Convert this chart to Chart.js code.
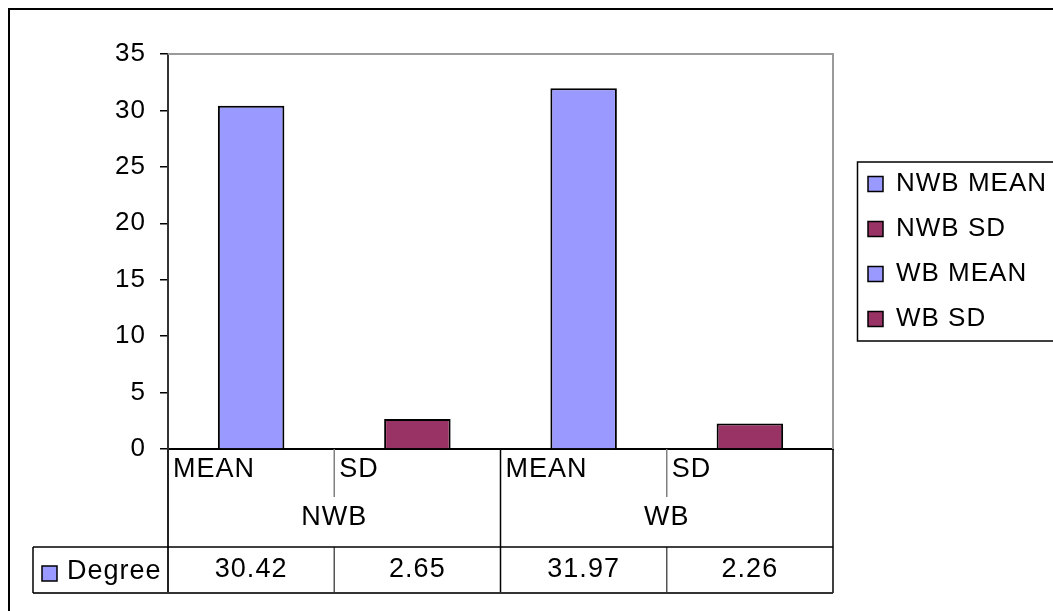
<!DOCTYPE html>
<html>
<head>
<meta charset="utf-8">
<script src="https://cdn.jsdelivr.net/npm/chart.js@4/dist/chart.umd.min.js"></script>
<style>
  html, body { margin: 0; padding: 0; background: #fff; }
  #wrap { width: 1053px; height: 611px; }
</style>
</head>
<body>
<div id="wrap"><canvas id="c" width="1053" height="611"></canvas></div>
<script>
// Chart data
const groups = ['NWB', 'WB'];
const categories = ['MEAN', 'SD', 'MEAN', 'SD'];
const seriesName = 'Degree';
const values = [30.42, 2.65, 31.97, 2.26];
const legendLabels = ['NWB MEAN', 'NWB SD', 'WB MEAN', 'WB SD'];
const yTicks = [0, 5, 10, 15, 20, 25, 30, 35];

// Styling
const FONT = "'Liberation Sans', Arial, sans-serif";
const barColors = ['#9999FF', '#993366', '#9999FF', '#993366'];

// Frame, plot-area border, legend box and the data table under the axis
const tablePlugin = {
  id: 'tablePlugin',
  beforeLayout(chart) { chart.ctx.letterSpacing = '1px'; },
  beforeDraw(chart) {
    const ctx = chart.ctx;
    ctx.letterSpacing = '1px';
    ctx.save();
    ctx.fillStyle = '#fff';
    ctx.fillRect(0, 0, chart.width, chart.height);
    // outer chart frame (only top/left inside the canvas)
    ctx.strokeStyle = '#000';
    ctx.lineWidth = 2;
    ctx.beginPath();
    ctx.moveTo(9, chart.height + 5);
    ctx.lineTo(9, 9);
    ctx.lineTo(chart.width + 5, 9);
    ctx.stroke();
    ctx.restore();
  },
  beforeDatasetsDraw(chart) {
    const ctx = chart.ctx, ca = chart.chartArea;
    ctx.save();
    ctx.strokeStyle = '#9a9a9a';
    ctx.lineWidth = 2;
    ctx.beginPath();
    ctx.moveTo(ca.left, ca.top);
    ctx.lineTo(ca.right, ca.top);
    ctx.lineTo(ca.right, ca.bottom);
    ctx.stroke();
    ctx.restore();
  },
  afterDraw(chart) {
    const ctx = chart.ctx, ca = chart.chartArea, xs = chart.scales.x;
    const n = categories.length;
    const cw = xs.getPixelForValue(1) - xs.getPixelForValue(0);
    const edge = i => xs.getPixelForValue(i) - cw / 2;
    const y0 = ca.bottom;
    const catMid = y0 + 21, subDivBottom = y0 + 48, grpMid = y0 + 69;
    const rowTop = y0 + 98, rowMid = y0 + 121, rowBottom = y0 + 144;
    const keyLeft = 33;

    ctx.save();
    ctx.lineCap = 'butt';
    const line = (x1, y1, x2, y2, color, w) => {
      ctx.strokeStyle = color; ctx.lineWidth = w;
      ctx.beginPath(); ctx.moveTo(x1, y1); ctx.lineTo(x2, y2); ctx.stroke();
    };
    // category dividers inside each group
    const perGroup = n / groups.length;
    for (let i = 1; i < n; i++) {
      if (i % perGroup === 0) {
        line(edge(i), y0, edge(i), rowBottom, '#000', 1.5);
      } else {
        line(edge(i), y0, edge(i), subDivBottom, '#808080', 1.5);
        line(edge(i), rowTop, edge(i), rowBottom, '#555', 1.5);
      }
    }
    // table outline
    line(ca.left, y0, ca.left, rowBottom, '#222', 2);
    line(ca.right, y0, ca.right, rowBottom, '#000', 1.5);
    line(keyLeft, rowTop, ca.right, rowTop, '#000', 1.5);
    line(keyLeft, rowBottom, ca.right, rowBottom, '#333', 2);
    line(keyLeft, rowTop, keyLeft, rowBottom, '#000', 1.5);

    ctx.fillStyle = '#000';
    ctx.font = `27px ${FONT}`;
    ctx.textBaseline = 'middle';
    // category labels
    ctx.textAlign = 'left';
    categories.forEach((c, i) => ctx.fillText(c, edge(i) + 5, catMid));
    // group labels
    ctx.textAlign = 'center';
    groups.forEach((g, gi) => {
      const mid = (edge(gi * perGroup) + edge((gi + 1) * perGroup)) / 2;
      ctx.fillText(g, mid, grpMid);
    });
    // value row
    values.forEach((v, i) => ctx.fillText(v.toFixed(2), xs.getPixelForValue(i), rowMid));
    // series key
    ctx.fillStyle = barColors[0];
    ctx.fillRect(42, rowMid - 4, 15, 15);
    ctx.strokeStyle = '#000'; ctx.lineWidth = 1.5;
    ctx.strokeRect(42, rowMid - 4, 15, 15);
    ctx.fillStyle = '#000';
    ctx.textAlign = 'left';
    ctx.fillText(seriesName, 67, rowMid + 2);

    // legend frame
    const lg = chart.legend, hb = lg.legendHitBoxes;
    if (hb && hb.length) {
      const top = hb[0].top - 9;
      const bottom = hb[hb.length - 1].top + hb[hb.length - 1].height + 9;
      ctx.strokeStyle = '#000'; ctx.lineWidth = 1.5;
      ctx.strokeRect(lg.left + 8.5, top, chart.width, bottom - top);
    }
    ctx.restore();
  }
};

const chart = new Chart(document.getElementById('c'), {
  type: 'bar',
  data: {
    labels: categories,
    datasets: [{
      label: seriesName,
      data: values,
      backgroundColor: barColors,
      borderColor: '#000',
      borderWidth: 2,
      borderSkipped: 'start',
      barPercentage: 0.4,
      categoryPercentage: 1
    }]
  },
  options: {
    responsive: false,
    animation: false,
    layout: { padding: { top: 54, bottom: 162, left: 0, right: 0 } },
    scales: {
      x: {
        offset: true,
        grid: { display: false },
        ticks: { display: false },
        border: { display: true, color: '#000', width: 2 },
        afterFit: s => { s.height = 0; }
      },
      y: {
        min: 0,
        max: 35,
        afterBuildTicks: s => { s.ticks = yTicks.map(v => ({ value: v })); },
        ticks: { color: '#000', font: { family: FONT, size: 26 }, padding: 14 },
        grid: { drawOnChartArea: false, drawTicks: true, tickLength: 8, color: '#000', lineWidth: 1.5 },
        border: { display: true, color: '#333', width: 2 },
        afterFit: s => { s.width = 168; }
      },
      y2: {
        position: 'right',
        display: true,
        grid: { display: false },
        ticks: { display: false },
        border: { display: false },
        afterFit: s => { s.width = 16; }
      }
    },
    plugins: {
      tooltip: { enabled: false },
      legend: {
        position: 'right',
        align: 'center',
        fullSize: false,
        maxWidth: 204,
        onClick: () => {},
        labels: {
          boxWidth: 15,
          boxHeight: 15,
          padding: 19,
          color: '#000',
          font: { family: FONT, size: 26 },
          generateLabels: () => legendLabels.map((t, i) => ({
            text: t,
            fillStyle: barColors[i],
            strokeStyle: '#000',
            lineWidth: 1.5,
            fontColor: '#000',
            hidden: false,
            datasetIndex: 0,
            index: i
          }))
        }
      }
    }
  },
  plugins: [tablePlugin]
});
</script>
</body>
</html>
